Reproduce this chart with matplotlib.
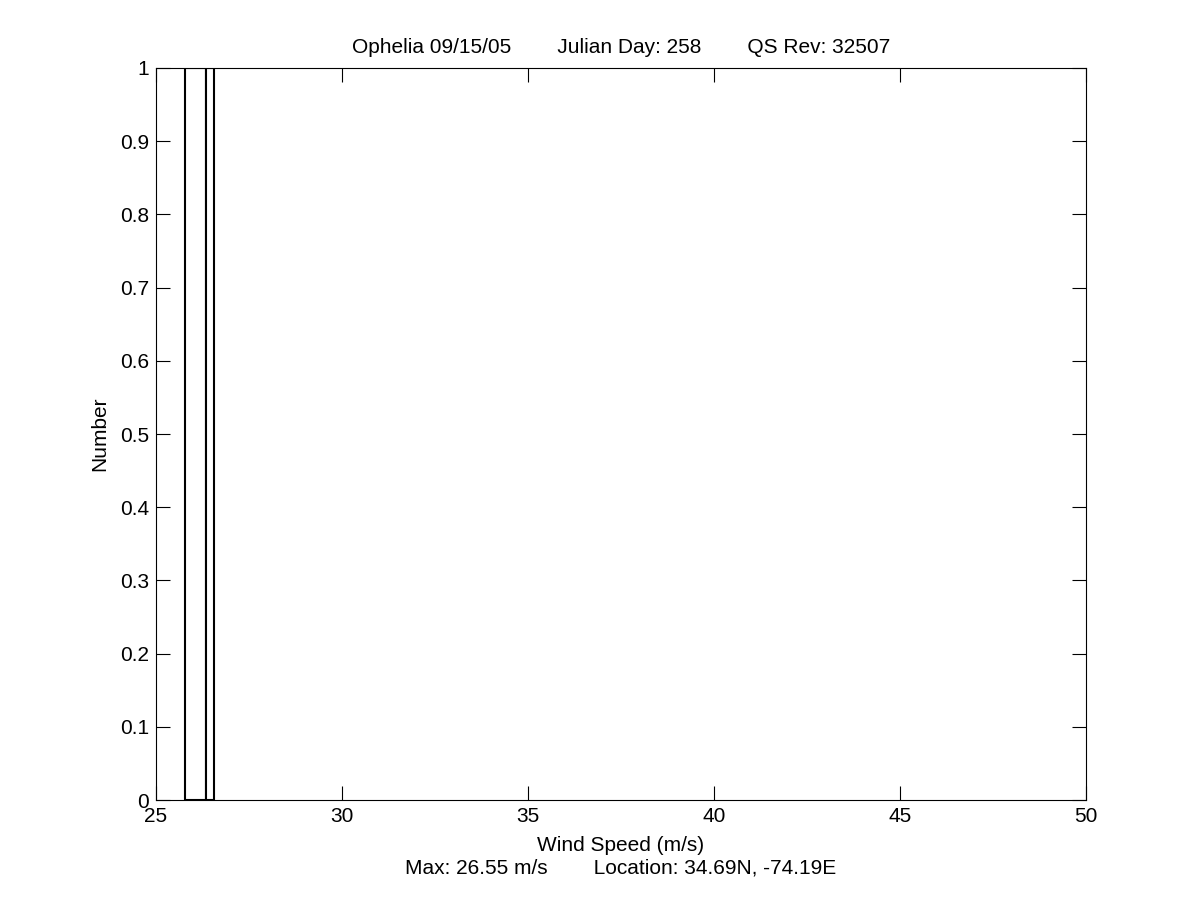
import matplotlib
matplotlib.use('Agg')
import matplotlib.pyplot as plt

# histogram bins (left edge, width) and counts
bin_left = [25.78, 26.34]
bin_width = [0.56, 0.21]
counts = [1, 1]

storm = 'Ophelia 09/15/05'
julian_day = 258
qs_rev = 32507
max_speed = 26.55
lat, lon = 34.69, -74.19

plt.rcParams['font.family'] = ['Liberation Sans', 'DejaVu Sans']
plt.rcParams['font.size'] = 15

fig = plt.figure(figsize=(12, 9), dpi=100)
ax = fig.add_axes([0.13, 0.111, 0.775, 0.8135])

ax.bar(bin_left, counts, width=bin_width, align='edge',
       facecolor='white', edgecolor='black', linewidth=1.5)

ax.set_xlim(25, 50)
ax.set_ylim(0, 1)
ax.set_xticks([25, 30, 35, 40, 45, 50])
ax.set_yticks([i / 10 for i in range(11)])
ax.set_yticklabels(['0'] + ['%.1f' % (i / 10) for i in range(1, 10)] + ['1'])
ax.tick_params(direction='in', length=10, width=0.8, top=True, right=True,
               labelsize=15, pad=5)
for s in ax.spines.values():
    s.set_linewidth(0.8)

gap = ' ' * 8
ax.set_title('%s%sJulian Day: %d%sQS Rev: %d' % (storm, gap, julian_day, gap, qs_rev),
             fontsize=15, pad=0, y=1.028, va='center')
ax.set_xlabel('Wind Speed (m/s)', fontsize=15)
ax.xaxis.set_label_coords(0.5, -0.0615)
ax.xaxis.label.set_va('center')
ax.set_ylabel('Number', fontsize=15)
ax.yaxis.set_label_coords(-0.0602, 0.5)
ax.yaxis.label.set_va('center')
# second line under the x label, centred on the axes
ax.text(0.5, -0.093, 'Max: %.2f m/s%sLocation: %.2fN, %.2fE' % (max_speed, gap, lat, lon),
        transform=ax.transAxes, ha='center', va='center', fontsize=15)

fig.savefig('out.png', dpi=100)
